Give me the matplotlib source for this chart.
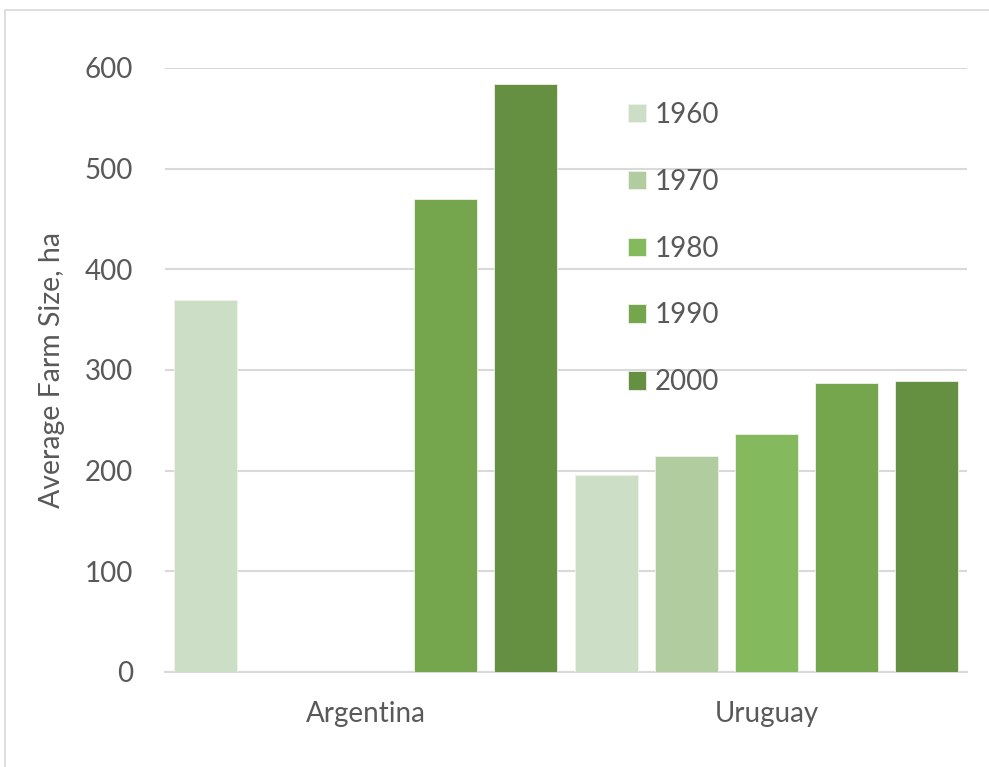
import numpy as np
import matplotlib
matplotlib.use("Agg")
import matplotlib.pyplot as plt
from matplotlib.patches import Rectangle

plt.rcParams['font.family'] = ['Lato', 'DejaVu Sans']

countries = ["Argentina", "Uruguay"]
years = ["1960", "1970", "1980", "1990", "2000"]
# farm size in ha per year; Argentina has no values for 1970 and 1980
argentina = [370, np.nan, np.nan, 470, 584]
uruguay = [196, 215, 236, 287, 289]
colors = ["#CDDEC7", "#B1CDA0", "#84B95E", "#75A64D", "#659042"]

values = np.array([argentina, uruguay])
n = len(years)
slot = 1.0 / n
bar_w = slot * 0.785
x = np.arange(len(countries))

fig = plt.figure(figsize=(9.89, 7.67), dpi=100)
ax = fig.add_axes([165 / 989, 1 - 672 / 767, (967 - 165) / 989, (672 - 68) / 767])

for j, year in enumerate(years):
    ax.bar(x + (j - (n - 1) / 2) * slot, values[:, j], width=bar_w,
           color=colors[j], edgecolor="#eef3ea", linewidth=0.6,
           label=year, zorder=3)

ax.set_xlim(-0.5, 1.5)
ax.set_ylim(0, 600)
ax.set_yticks(np.arange(0, 601, 100))
ax.set_xticks(x)
ax.set_xticklabels(countries)
ax.yaxis.grid(True, color="#d9d9d9", linewidth=1.5, zorder=0)
ax.set_axisbelow(True)
for s in ["top", "right", "left"]:
    ax.spines[s].set_visible(False)
ax.spines["bottom"].set_color("#d9d9d9")
ax.spines["bottom"].set_linewidth(1.5)
ax.tick_params(axis="both", length=0, labelsize=20, labelcolor="#595959")
ax.tick_params(axis="y", pad=23)
ax.tick_params(axis="x", pad=21)
ax.set_ylabel("Average Farm Size, ha", fontsize=20.5, color="#595959", labelpad=14)

leg = ax.legend(loc="upper left", bbox_to_anchor=(614 / 989, 1 - 88 / 767),
                bbox_transform=fig.transFigure, frameon=False, fontsize=20,
                handlelength=0.65, handleheight=0.65, handletextpad=0.32,
                labelspacing=1.47, borderpad=0)
for t in leg.get_texts():
    t.set_color("#595959")

fig.patches.append(Rectangle((5 / 989, -0.05), 1.2, 1 - 10 / 767 + 0.05,
                             transform=fig.transFigure, fill=False,
                             edgecolor="#d9d9d9", linewidth=1.2))

fig.savefig("out.png", dpi=100)
